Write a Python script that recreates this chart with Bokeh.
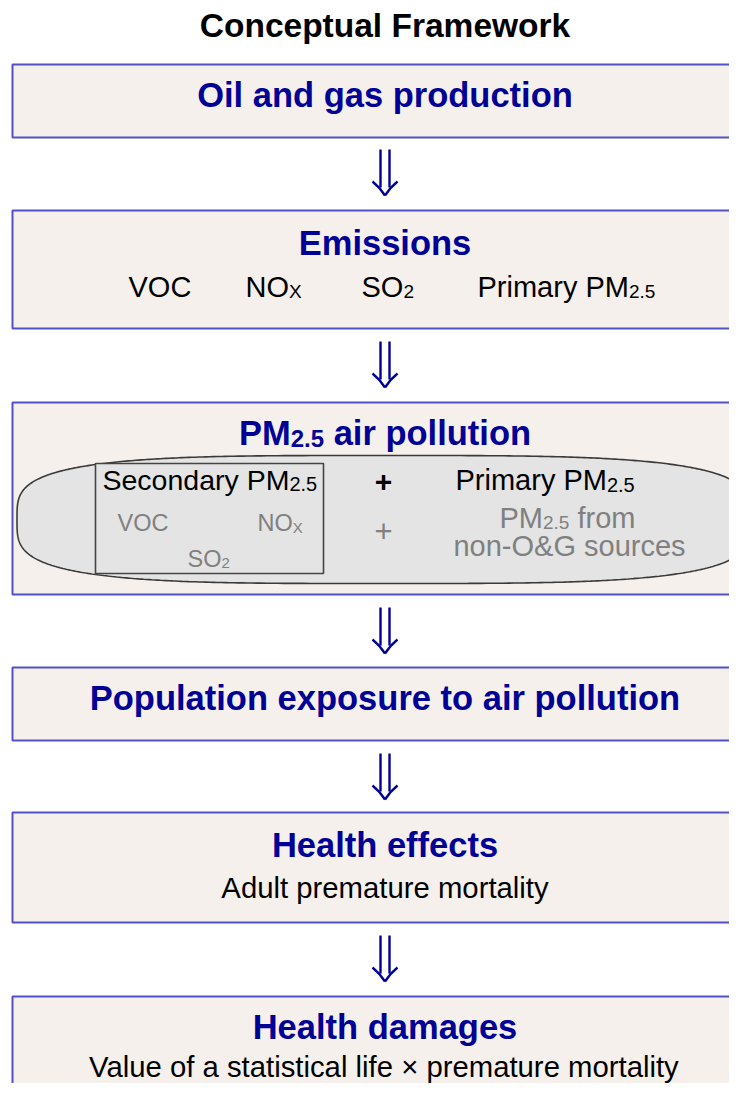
import numpy as np
from bokeh.plotting import figure
from bokeh.models import Range1d
from bokeh.embed import file_html
from bokeh.resources import INLINE
from bokeh.core.properties import value

# ---------------- content ----------------
TITLE = "Conceptual Framework"
STAGE_TITLES = ["Oil and gas production", "Emissions", "PM2.5 air pollution",
                "Population exposure to air pollution", "Health effects", "Health damages"]
EMISSION_ITEMS = [("VOC", ""), ("NO", "X"), ("SO", "2"), ("Primary PM", "2.5")]
SECONDARY_PRECURSORS = [("VOC", ""), ("NO", "X"), ("SO", "2")]
HEALTH_EFFECT_TEXT = "Adult premature mortality"
HEALTH_DAMAGE_TEXT = "Value of a statistical life \u00d7 premature mortality"

# ---------------- layout (pixels from top-left) ----------------
BOX_Y = [(64, 137), (210, 328), (402, 594), (667, 740), (812, 922), (996, 1120)]
ARROW_TOP = [149, 341, 607, 753, 935]
CX = 384.5

BLUE_TXT = "#000096"
BOX_FILL = "#F5F0EB"
BOX_LINE = "#5050C8"
GREY_TXT = "#808080"
SHAPE_FILL = "#E4E4E4"
FONT = "Liberation Sans"
MID = 0.35  # baseline correction (fraction of font size)

REG = {' ': 278, '.': 278, '-': 333, '&': 667, '\u00d7': 584, '+': 584,
       'A': 667, 'C': 722, 'G': 778, 'M': 833, 'N': 722, 'O': 778, 'P': 667,
       'S': 667, 'V': 667, 'X': 667,
       'a': 556, 'b': 556, 'c': 500, 'd': 556, 'e': 556, 'f': 278, 'g': 556,
       'h': 556, 'i': 222, 'k': 500, 'l': 222, 'm': 833, 'n': 556, 'o': 556,
       'p': 556, 'r': 333, 's': 500, 't': 278, 'u': 556, 'v': 500, 'w': 722,
       'x': 500, 'y': 500}
BOLD = {' ': 278, '.': 278, 'P': 667, 'M': 833, 'E': 667, 'H': 722, 'O': 778,
        'C': 722, 'F': 611,
        'a': 556, 'c': 556, 'd': 611, 'e': 556, 'f': 333, 'g': 611, 'h': 611,
        'i': 278, 'l': 278, 'm': 889, 'n': 611, 'o': 611, 'p': 611, 'r': 389,
        's': 556, 't': 333, 'u': 611, 'x': 556, 'w': 778, 'k': 556}


def tw(s, size, bold=False):
    t = BOLD if bold else REG
    return sum(t.get(c, 556) for c in s) * size / 1000.0


p = figure(width=729, height=1083, output_backend="svg", toolbar_location=None,
           x_range=Range1d(0, 729), y_range=Range1d(1083, 0), min_border=0)
p.axis.visible = False
p.grid.visible = False
p.outline_line_color = None
p.background_fill_color = "white"
p.border_fill_color = "white"


def put(x, base, txt, size, bold, color, align="left"):
    p.text(x=[x], y=[base - MID * size], text=[txt], text_font=value(FONT),
           text_font_size=f"{size}px", text_font_style="bold" if bold else "normal",
           text_color=color, text_align=align, text_baseline="alphabetic")


def rich(pieces, x, y, align="center"):
    """pieces: list of (text, size, bold, color, dy)"""
    total = sum(tw(t, s, b) for t, s, b, c, d in pieces)
    x0 = x - total / 2 if align == "center" else x
    for t, s, b, c, d in pieces:
        lead = len(t) - len(t.lstrip(" "))
        xs = x0 + lead * REG[' '] * s / 1000.0
        if t.strip():
            put(xs, y + d, t.strip(), s, b, c)
        x0 += tw(t, s, b)


# boxes
for top, bot in BOX_Y:
    p.quad(left=[12], right=[780], top=[top], bottom=[bot], fill_color=BOX_FILL,
           line_color=BOX_LINE, line_width=2)

# arrows
for t in ARROW_TOP:
    for dx in (-4.5, 4.5):
        p.segment(x0=[CX + dx], y0=[t], x1=[CX + dx], y1=[t + 38], line_color=BLUE_TXT,
                  line_width=2.4)
    tip = t + 46
    for sgn in (-1, 1):
        p.quadratic(x0=[CX + sgn * 12.5], y0=[t + 32], x1=[CX], y1=[tip],
                    cx=[CX + sgn * 5], cy=[t + 38], line_color=BLUE_TXT, line_width=2.4)

# title
put(CX, 37, TITLE, 33.5, True, "black", align="center")

BS = 34.5
# stage 1
rich([(STAGE_TITLES[0], BS, True, BLUE_TXT, 0)], CX, 107)
# stage 2
rich([(STAGE_TITLES[1], BS, True, BLUE_TXT, 0)], CX, 255)
em_x = [128, 245, 361, 477]
for (main, sub), xl in zip(EMISSION_ITEMS, em_x):
    pcs = [(main, 29, False, "black", 0)]
    if sub:
        pcs.append((sub, 19, False, "black", 1))
    rich(pcs, xl, 297, align="left")

# stage 3
rich([("PM", BS, True, BLUE_TXT, 0), ("2.5", 24, True, BLUE_TXT, 1),
      (" air pollution", BS, True, BLUE_TXT, 0)], CX, 445)

# rounded (super-elliptic) region
th = np.linspace(0, 2 * np.pi, 600)
n = 3.6
ex = CX - 1 + 367 * np.sign(np.cos(th)) * np.abs(np.cos(th)) ** (2 / n)
ey = 519 + 64 * np.sign(np.sin(th)) * np.abs(np.sin(th)) ** (2 / n)
p.patch(ex, ey, fill_color=SHAPE_FILL, line_color="#3A3A3A", line_width=1.6)

# secondary box
p.quad(left=[95], right=[323], top=[463], bottom=[573], fill_color=SHAPE_FILL,
       line_color="#444444", line_width=1.6)
rich([("Secondary PM", 28.5, False, "black", 0), ("2.5", 20, False, "black", 1)], 102, 489,
     align="left")
sec_pos = [(117, 531), (257, 531), (187, 567)]
for (main, sub), (xl, yb) in zip(SECONDARY_PRECURSORS, sec_pos):
    pcs = [(main, 23.5, False, GREY_TXT, 0)]
    if sub:
        pcs.append((sub, 15, False, GREY_TXT, 1))
    rich(pcs, xl, yb, align="left")

put(383, 492, "+", 30, True, "black", align="center")
put(383, 541, "+", 31, False, GREY_TXT, align="center")

rich([("Primary PM", 29, False, "black", 0), ("2.5", 20, False, "black", 1)], 455, 490,
     align="left")
rich([("PM", 29, False, GREY_TXT, 0), ("2.5", 19, False, GREY_TXT, 1),
      (" from", 29, False, GREY_TXT, 0)], 567, 528)
rich([("non-O&G sources", 29, False, GREY_TXT, 0)], 569, 556)

# stage 4
rich([(STAGE_TITLES[3], BS, True, BLUE_TXT, 0)], CX, 710)
# stage 5
rich([(STAGE_TITLES[4], BS, True, BLUE_TXT, 0)], CX, 857)
rich([(HEALTH_EFFECT_TEXT, 29.3, False, "black", 0)], CX, 897)
# stage 6
rich([(STAGE_TITLES[5], BS, True, BLUE_TXT, 0)], CX, 1039)
rich([(HEALTH_DAMAGE_TEXT, 29.3, False, "black", 0)], CX, 1076)

open("out.html", "w").write(file_html(p, INLINE))
